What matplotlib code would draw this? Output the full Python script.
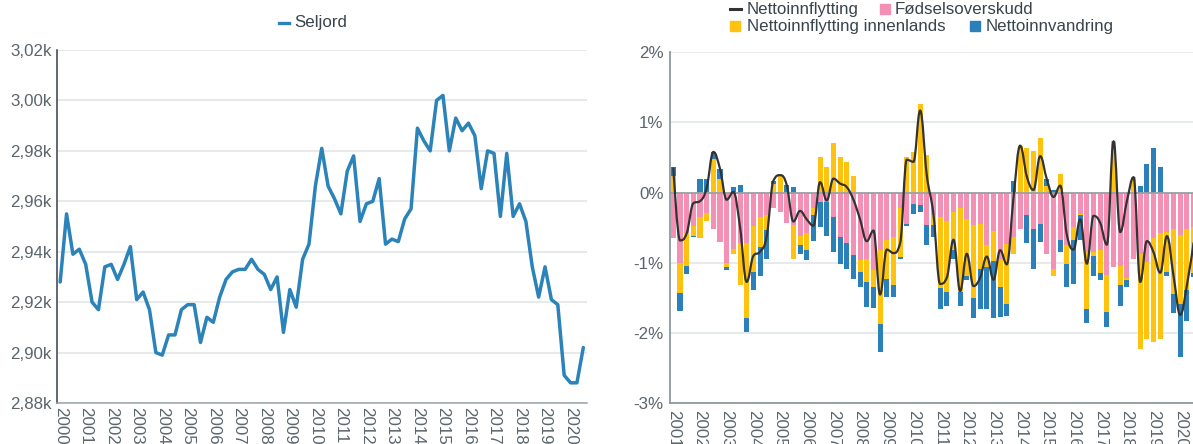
import numpy as np
import matplotlib
matplotlib.use('Agg')
import matplotlib.pyplot as plt
from matplotlib.path import Path
from matplotlib.patches import PathPatch, Rectangle
from matplotlib.lines import Line2D
from matplotlib.transforms import ScaledTranslation

plt.rcParams['font.family'] = ['Liberation Sans', 'DejaVu Sans']

# ---   DATA   --- #
# Left panel: quarterly population, 2000Q1 .. 2020Q3
YEARS_LEFT = list(range(2000, 2021))
SELJORD = [
    2928, 2955, 2939, 2941,
    2935, 2920, 2917, 2934,
    2935, 2929, 2935, 2942,
    2921, 2924, 2917, 2900,
    2899, 2907, 2907, 2917,
    2919, 2919, 2904, 2914,
    2912, 2922, 2929, 2932,
    2933, 2933, 2937, 2933,
    2931, 2925, 2930, 2908,
    2925, 2918, 2937, 2943,
    2966, 2981, 2966, 2961,
    2955, 2972, 2978, 2952,
    2959, 2960, 2969, 2943,
    2945, 2944, 2953, 2957,
    2989, 2984, 2980, 3000,
    3002, 2980, 2993, 2988,
    2991, 2986, 2965, 2980,
    2979, 2954, 2979, 2954,
    2959, 2952, 2934, 2922,
    2934, 2921, 2919, 2891,
    2888, 2888, 2902,
]

# Right panel: quarterly components in %, 2001Q1 .. 2020Q3
YEARS_RIGHT = list(range(2001, 2021))
FODSELSOVERSKUDD = [
    -0.64, -1.00, -0.58, -0.48, -0.34, -0.29, -0.52, -0.70,
    -1.00, -0.80, -0.72, -0.72, -0.48, -0.35, -0.32, -0.22,
    -0.27, -0.43, -0.46, -0.61, -0.58, -0.22, -0.13, -0.13,
    -0.34, -0.63, -0.72, -0.89, -0.96, -0.94, -1.10, -0.82,
    -0.68, -0.63, -0.22, -0.44, -0.16, -0.18, -0.46, -0.32,
    -0.35, -0.40, -0.27, -0.22, -0.37, -0.46, -0.44, -0.75,
    -0.54, -0.95, -0.73, -0.63, -0.52, -0.32, -0.52, -0.44,
    -0.87, -1.08, -0.68, -0.75, -0.49, -0.30, -0.84, -0.85,
    -0.82, -1.17, -1.06, -1.05, -1.22, -0.94, -0.87, -0.99,
    -0.65, -0.58, -0.56, -0.52, -0.60, -0.51, -0.49,
]
INNENLANDS = [
    0.24, -0.43, -0.47, -0.13, -0.31, -0.12, 0.48, 0.20,
    -0.06, -0.07, -0.60, -1.06, -0.65, -0.42, -0.21, 0.13,
    0.25, 0.00, -0.49, -0.13, -0.24, -0.10, 0.51, 0.37,
    0.71, 0.51, 0.44, 0.24, -0.17, -0.33, -0.24, -1.05,
    -0.55, -0.69, -0.69, 0.51, 0.58, 1.27, 0.54, -0.14,
    -1.01, -1.01, -0.55, -1.19, -0.81, -1.04, -0.64, -0.31,
    -0.44, -0.40, -0.85, -0.24, 0.67, 0.63, 0.60, 0.78,
    0.09, -0.10, 0.27, -0.26, -0.18, -0.02, -0.81, -0.05,
    -0.33, -0.53, 0.73, -0.27, -0.02, 0.22, -1.36, -1.10,
    -1.48, -1.50, -0.57, -0.92, -0.98, -0.88, -0.66,
]
INNVANDRING = [
    0.12, -0.25, -0.11, -0.02, 0.19, 0.19, 0.10, 0.14,
    -0.04, 0.08, 0.11, -0.21, -0.25, -0.42, -0.41, 0.04,
    0.00, 0.11, 0.08, -0.13, -0.14, -0.37, -0.36, -0.48,
    -0.51, -0.38, -0.36, -0.34, -0.21, -0.36, -0.30, -0.40,
    -0.26, -0.17, -0.03, -0.04, -0.14, -0.10, -0.29, -0.17,
    -0.29, -0.20, -0.12, -0.21, -0.06, -0.29, -0.57, -0.60,
    -0.80, -0.42, -0.17, 0.17, 0.00, -0.40, -0.56, -0.26,
    0.10, 0.04, -0.17, -0.34, -0.63, -0.36, -0.20, -0.28,
    -0.10, -0.21, 0.00, -0.29, -0.10, 0.00, 0.09, 0.41,
    0.63, 0.36, -0.05, -0.27, -0.76, -0.44, -0.05,
]

# ---   STYLE   --- #
W, H, DPI = 1193, 444, 100
FS = 12.2
C_LINE = '#2b83ba'
C_PINK = '#f490b4'
C_YELLOW = '#ffc20e'
C_BLUE = '#2b80b9'
C_NET = '#333333'
C_GRID = '#e4e8ea'
C_TICK = '#5b656c'
C_LEG = '#3a444b'


def px_box(x0, y0, x1, y1):
    """axes rectangle in figure fraction from pixel corners"""
    return [x0 / W, 1 - y1 / H, (x1 - x0) / W, (y1 - y0) / H]


def fx(x):
    return x / W


def fy(y):
    return 1 - y / H


def spline_path(xs, ys, smoothing=1.5):
    """Highcharts-like spline through the given points"""
    n = len(xs)
    left = [(xs[i], ys[i]) for i in range(n)]
    right = list(left)
    d = smoothing + 1
    for i in range(1, n - 1):
        x, y = xs[i], ys[i]
        lx, ly = xs[i - 1], ys[i - 1]
        nx, ny = xs[i + 1], ys[i + 1]
        lcx, lcy = (smoothing * x + lx) / d, (smoothing * y + ly) / d
        rcx, rcy = (smoothing * x + nx) / d, (smoothing * y + ny) / d
        corr = (rcy - lcy) * (rcx - x) / (rcx - lcx) + y - rcy
        lcy += corr
        rcy += corr
        if lcy > ly and lcy > y:
            lcy = max(ly, y)
            rcy = 2 * y - lcy
        elif lcy < ly and lcy < y:
            lcy = min(ly, y)
            rcy = 2 * y - lcy
        if rcy > ny and rcy > y:
            rcy = max(ny, y)
            lcy = 2 * y - rcy
        elif rcy < ny and rcy < y:
            rcy = min(ny, y)
            lcy = 2 * y - rcy
        left[i] = (lcx, lcy)
        right[i] = (rcx, rcy)
    verts = [(xs[0], ys[0])]
    codes = [Path.MOVETO]
    for i in range(1, n):
        verts += [right[i - 1], left[i], (xs[i], ys[i])]
        codes += [Path.CURVE4] * 3
    return Path(verts, codes)


fig = plt.figure(figsize=(W / DPI, H / DPI), dpi=DPI)

# ---   LEFT PANEL   --- #
ax1 = fig.add_axes(px_box(57.3, 50, 586.5, 403))
q1 = np.arange(len(SELJORD))
ax1.plot(q1, SELJORD, color=C_LINE, lw=2.5, solid_joinstyle='round',
         solid_capstyle='round', zorder=3)
ax1.set_xlim(-0.45, 82.5)
ax1.set_ylim(2880, 3020)
ax1.set_yticks(np.arange(2880, 3021, 20))
ax1.set_yticklabels([f'{v / 1000:.2f}k'.replace('.', ',')
                     for v in np.arange(2880, 3021, 20)])
ax1.set_xticks([4 * (y - YEARS_LEFT[0]) for y in YEARS_LEFT])
ax1.set_xticklabels([str(y) for y in YEARS_LEFT], rotation=-90,
                    ha='center', va='top')
ax1.grid(axis='y', color=C_GRID, lw=1.3)
ax1.set_axisbelow(True)
ax1.tick_params(axis='both', length=0, labelsize=FS, labelcolor=C_TICK)
ax1.tick_params(axis='y', pad=4)
ax1.tick_params(axis='x', pad=3)
for s in ['top', 'right']:
    ax1.spines[s].set_visible(False)
ax1.spines['left'].set_color('#34404a')
ax1.spines['left'].set_linewidth(1.1)
ax1.spines['bottom'].set_color('#9aa3a8')
ax1.spines['bottom'].set_linewidth(1.1)

# legend left
fig.add_artist(Line2D([fx(279), fx(289)], [fy(23), fy(23)], color=C_LINE,
                      lw=2.4, transform=fig.transFigure))
fig.text(fx(294), fy(23), 'Seljord', fontsize=FS, color=C_LEG,
         ha='left', va='center')

# ---   RIGHT PANEL   --- #
n = len(FODSELSOVERSKUDD)
ax2 = fig.add_axes(px_box(670, 52.3, 670 + 6.67 * n, 403.3))
q2 = np.arange(n)
pos_base = np.zeros(n)
neg_base = np.zeros(n)
for vals, col in [(FODSELSOVERSKUDD, C_PINK), (INNENLANDS, C_YELLOW),
                  (INNVANDRING, C_BLUE)]:
    v = np.array(vals)
    bottom = np.where(v >= 0, pos_base, neg_base)
    ax2.bar(q2, v, bottom=bottom, width=0.76, color=col, lw=0, zorder=2)
    pos_base = pos_base + np.where(v >= 0, v, 0)
    neg_base = neg_base + np.where(v < 0, v, 0)

ax2.axhline(0, color='#9aa1a6', lw=1.3, zorder=2.5)
net = np.array(INNENLANDS) + np.array(INNVANDRING)
ax2.add_patch(PathPatch(spline_path(q2.astype(float), net), fill=False,
                        edgecolor=C_NET, lw=1.6, zorder=4))

ax2.set_xlim(-0.5, n - 0.5)
ax2.set_ylim(-3, 2)
ax2.set_yticks(np.arange(-3, 3, 1))
ax2.set_yticklabels([f'{v:d}%' for v in range(-3, 3)])
ax2.set_xticks([4 * (y - YEARS_RIGHT[0]) for y in YEARS_RIGHT])
ax2.set_xticklabels([str(y) for y in YEARS_RIGHT], rotation=-90,
                    ha='center', va='top')
for lab in ax2.get_xticklabels():
    lab.set_transform(lab.get_transform() +
                      ScaledTranslation(6.5 / DPI, 0, fig.dpi_scale_trans))
ax2.grid(axis='y', color=C_GRID, lw=1.3)
ax2.set_axisbelow(True)
ax2.tick_params(axis='both', length=0, labelsize=FS, labelcolor=C_TICK)
ax2.tick_params(axis='y', pad=4.5)
ax2.tick_params(axis='x', pad=5)
for s in ['top', 'right']:
    ax2.spines[s].set_visible(False)
for s in ['left', 'bottom']:
    ax2.spines[s].set_color('#8e989e')
    ax2.spines[s].set_linewidth(1.3)

# legend right
fig.add_artist(Line2D([fx(730), fx(741)], [fy(9.5), fy(9.5)], color=C_NET,
                      lw=2.2, transform=fig.transFigure))
fig.text(fx(747), fy(9.5), 'Nettoinnflytting', fontsize=FS, color=C_LEG,
         ha='left', va='center')
fig.add_artist(Rectangle((fx(880), fy(14.5)), 10 / W, 10 / H, color=C_PINK,
                         transform=fig.transFigure))
fig.text(fx(895), fy(9.5), 'Fødselsoverskudd', fontsize=FS, color=C_LEG,
         ha='left', va='center')
fig.add_artist(Rectangle((fx(730), fy(31)), 10 / W, 10 / H, color=C_YELLOW,
                         transform=fig.transFigure))
fig.text(fx(747), fy(26), 'Nettoinnflytting innenlands', fontsize=FS,
         color=C_LEG, ha='left', va='center')
fig.add_artist(Rectangle((fx(970), fy(31)), 10 / W, 10 / H, color=C_BLUE,
                         transform=fig.transFigure))
fig.text(fx(986), fy(26), 'Nettoinnvandring', fontsize=FS, color=C_LEG,
         ha='left', va='center')

fig.savefig('out.png', dpi=DPI)
